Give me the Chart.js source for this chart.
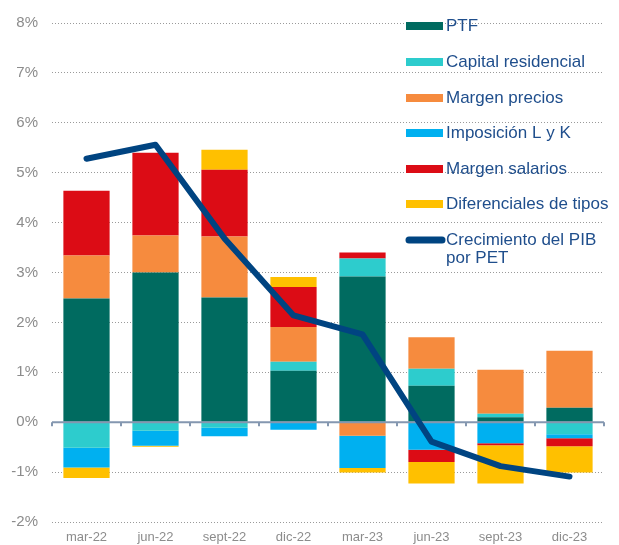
<!DOCTYPE html>
<html>
<head>
<meta charset="utf-8">
<script src="https://cdn.jsdelivr.net/npm/chart.js@4.4.1/dist/chart.umd.min.js"></script>
<style>
  html, body { margin: 0; padding: 0; background: #fff; }
  #wrap { position: relative; width: 619px; height: 545px; }
</style>
</head>
<body>
<div id="wrap"><canvas id="chart"></canvas></div>
<script>
// quarters
var quarters = ["mar-22", "jun-22", "sept-22", "dic-22", "mar-23", "jun-23", "sept-23", "dic-23"];

// contributions (pp)
var ptf          = [2.48, 3.00, 2.50, 1.03, 2.92, 0.73, 0.10, 0.29];
var capitalRes   = [-0.51, -0.17, -0.11, 0.18, 0.36, 0.34, 0.07, -0.24];
var margenPrec   = [0.86, 0.74, 1.22, 0.70, -0.27, 0.63, 0.88, 1.14];
var imposicion   = [-0.40, -0.30, -0.17, -0.15, -0.65, -0.55, -0.42, -0.08];
var margenSal    = [1.30, 1.66, 1.34, 0.80, 0.12, -0.25, -0.04, -0.16];
var diferencial  = [-0.21, -0.02, 0.40, 0.20, -0.09, -0.43, -0.77, -0.53];
var pibPorPet    = [5.28, 5.56, 3.68, 2.14, 1.76, -0.39, -0.88, -1.09];

var yTicks = [-2, -1, 0, 1, 2, 3, 4, 5, 6, 7, 8];

var FONT = "'Liberation Sans', Arial, sans-serif";

function bar(label, data, color) {
  return {
    type: "bar",
    label: label,
    data: data,
    backgroundColor: color,
    borderWidth: 0,
    order: 1,
    barPercentage: 0.67,
    categoryPercentage: 1
  };
}

// zero line + little ticks, drawn just before the PIB line
var zeroLine = {
  id: "zeroLine",
  beforeDatasetDraw: function(chart, args) {
    if (args.index !== 6) return;
    var ctx = chart.ctx, x = chart.scales.x, y = chart.scales.y;
    var y0 = y.getPixelForValue(0);
    ctx.save();
    ctx.strokeStyle = "#8497b0";
    ctx.lineWidth = 2;
    ctx.beginPath();
    ctx.moveTo(x.left, y0);
    ctx.lineTo(x.right, y0);
    for (var i = 0; i <= quarters.length; i++) {
      var px = x.getPixelForValue(i - 0.5);
      ctx.moveTo(px, y0);
      ctx.lineTo(px, y0 + 4);
    }
    ctx.stroke();
    ctx.restore();
  }
};

// legend inside the plot, top right
var insideLegend = {
  id: "insideLegend",
  afterDatasetsDraw: function(chart) {
    var ctx = chart.ctx;
    var sx = 406, sw = 37, tx = 446;
    var rows = [26, 62, 98, 133, 169, 204, 240];
    ctx.save();
    ctx.font = "17px " + FONT;
    ctx.textBaseline = "middle";
    chart.data.datasets.forEach(function(ds, i) {
      var cy = rows[i];
      if (ds.type === "line") {
        ctx.strokeStyle = ds.borderColor;
        ctx.lineWidth = 7;
        ctx.lineCap = "round";
        ctx.beginPath();
        ctx.moveTo(sx + 3, cy);
        ctx.lineTo(sx + sw - 1, cy);
        ctx.stroke();
      } else {
        ctx.fillStyle = ds.backgroundColor;
        ctx.fillRect(sx, cy - 4, sw, 8);
      }
      ctx.fillStyle = "#1f4e8c";
      var lines = [].concat(ds.label);
      lines.forEach(function(t, k) {
        ctx.fillText(t, tx, cy + k * 18);
      });
    });
    ctx.restore();
  }
};

var ctx = document.getElementById("chart");

var chart = new Chart(ctx, {
  data: {
    labels: quarters,
    datasets: [
      bar("PTF", ptf, "#006b60"),
      bar("Capital residencial", capitalRes, "#2dcccd"),
      bar("Margen precios", margenPrec, "#f68b3e"),
      bar("Imposición L y K", imposicion, "#00b0f0"),
      bar("Margen salarios", margenSal, "#dc0c15"),
      bar("Diferenciales de tipos", diferencial, "#ffc000"),
      {
        type: "line",
        label: ["Crecimiento del PIB", "por PET"],
        data: pibPorPet,
        borderColor: "#004481",
        borderWidth: 6,
        borderCapStyle: "round",
        borderJoinStyle: "round",
        pointRadius: 0,
        tension: 0,
        fill: false,
        stack: "line",
        order: 0
      }
    ]
  },
  options: {
    responsive: true,
    maintainAspectRatio: false,
    animation: false,
    layout: { padding: { top: 22, right: 15, left: 0, bottom: 0 } },
    plugins: {
      legend: { display: false },
      tooltip: { enabled: false }
    },
    scales: {
      x: {
        stacked: true,
        grid: { display: false, drawTicks: false },
        border: { display: false },
        ticks: {
          color: "#8c8c8c",
          font: { family: FONT, size: 13 },
          padding: 8,
          maxRotation: 0
        },
        afterFit: function(axis) { axis.height = 23; }
      },
      y: {
        stacked: true,
        min: -2,
        max: 8,
        afterBuildTicks: function(axis) {
          axis.ticks = yTicks.map(function(v) { return { value: v }; });
        },
        grid: {
          color: "#9a9a9a",
          lineWidth: 1,
          drawTicks: false
        },
        border: { display: false, dash: [1, 2] },
        ticks: {
          color: "#8c8c8c",
          font: { family: FONT, size: 15 },
          padding: 14,
          callback: function(v) { return v + "%"; }
        },
        afterFit: function(axis) { axis.width = 52; }
      }
    }
  },
  plugins: [zeroLine, insideLegend]
});
</script>
</body>
</html>
